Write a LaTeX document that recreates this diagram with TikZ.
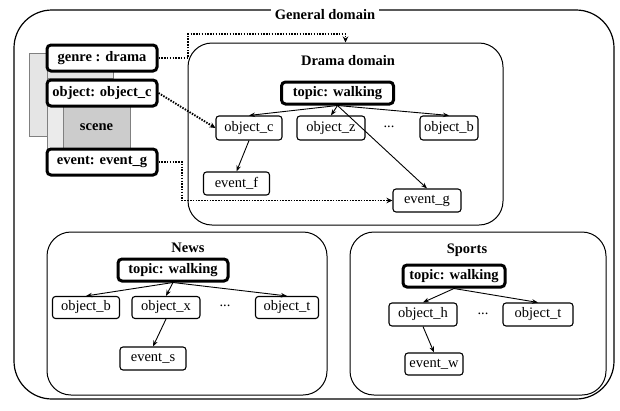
\documentclass[tikz,border=0pt]{standalone}
\usepackage{fontspec}
\setmainfont{Liberation Serif}
\usetikzlibrary{arrows.meta}

\begin{document}
\begin{tikzpicture}[x=1pt,y=-1pt,
  every node/.style={font=\fontsize{14.5}{17}\selectfont},
  domainbox/.style={draw, line width=1pt, rounded corners=24pt, inner sep=0pt},
  conceptbox/.style={draw, line width=1.1pt, rounded corners=3pt, inner sep=0pt, fill=white},
  keybox/.style={draw, line width=3pt, rounded corners=4pt, inner sep=0pt, fill=white,
    font=\fontsize{14.5}{17}\selectfont\bfseries},
  titletext/.style={font=\fontsize{14.5}{17}\selectfont\bfseries, inner sep=1pt},
  topiclink/.style={line width=0.9pt, -{Stealth[length=6pt,width=4.5pt]}},
  crosslink/.style={line width=1.9pt, dash pattern=on 1.5pt off 1.3pt,
    -{Stealth[length=6pt,width=5.5pt]}}]

\useasboundingbox (0,0) rectangle (620,410);

% general domain frame
\node[draw, line width=1.2pt, rounded corners=38pt, minimum width=600pt, minimum height=389pt,
  inner sep=0pt] (general) at (314,204.5) {};
\node[titletext, fill=white, inner xsep=4pt] (gtitle) at (325,15) {General domain};

% scene record on the left
\draw[gray, fill=gray!20, line width=0.6pt] (29,53) rectangle (47,136);
\draw[gray, fill=gray!20, line width=0.6pt] (47,70) rectangle (113,78);
\draw[gray, fill=gray!16, line width=0.6pt] (47,106) rectangle (63,148);
\node[draw=gray, fill=gray!40, line width=0.6pt, minimum width=67pt, minimum height=42pt,
  inner sep=0pt, font=\fontsize{14.5}{17}\selectfont\bfseries] (scene) at (96.5,127) {scene};
\node[keybox, minimum width=110pt, minimum height=26pt] (genre) at (102,58) {genre : drama};
\node[keybox, minimum width=110pt, minimum height=26pt] (objL) at (102,93) {object: object\_c};
\node[keybox, minimum width=110pt, minimum height=26pt] (eventL) at (102,162) {event: event\_g};

% drama domain
\node[domainbox, minimum width=315pt, minimum height=182pt] (drama) at (345.5,134) {};
\node[titletext] (dtitle) at (348,61) {Drama domain};
\node[keybox, minimum width=112pt, minimum height=22pt] (dtopic) at (337.5,93) {topic: walking};
\node[conceptbox, minimum width=66pt, minimum height=24pt] (dobjc) at (249,128) {object\_c};
\node[conceptbox, minimum width=68pt, minimum height=24pt] (dobjz) at (331,128) {object\_z};
\node (ddots) at (389,127) {...};
\node[conceptbox, minimum width=58pt, minimum height=24pt] (dobjb) at (449,128) {object\_b};
\node[conceptbox, minimum width=66pt, minimum height=23pt] (devf) at (236.5,183.5) {event\_f};
\node[conceptbox, minimum width=68pt, minimum height=23pt] (devg) at (427,200.5) {event\_g};

\draw[topiclink] (dtopic.south) -- (dobjc.north);
\draw[topiclink] (dtopic.south) -- (dobjz.north);
\draw[topiclink] (dtopic.south) -- (dobjb.north);
\draw[topiclink] (dtopic.south) -- (devg.north);
\draw[topiclink] (dobjc.south) -- (devf.north);

% links from the scene record into the drama domain
\coordinate (gbend) at (188,34);
\coordinate (ebend) at (182,200.5);
\draw[crosslink] (genre.east) -| (gbend) -| (drama.north);
\draw[crosslink] (objL.east) -- (dobjc.west);
\draw[crosslink] (eventL.east) -| (ebend) -- (devg.west);

% news domain
\node[domainbox, minimum width=280pt, minimum height=163pt] (news) at (187,313.5) {};
\node[titletext] (ntitle) at (188,248) {News};
\node[keybox, minimum width=110pt, minimum height=22pt] (ntopic) at (173,270) {topic: walking};
\node[conceptbox, minimum width=67pt, minimum height=22pt] (nobjb) at (86,307.5) {object\_b};
\node[conceptbox, minimum width=68pt, minimum height=22pt] (nobjx) at (166,307.5) {object\_x};
\node (ndots) at (225,306) {...};
\node[conceptbox, minimum width=63pt, minimum height=22pt] (nobjt) at (287,307.5) {object\_t};
\node[conceptbox, minimum width=66pt, minimum height=23pt] (nevs) at (153,358.5) {event\_s};

\draw[topiclink] (ntopic.south) -- (nobjb.north);
\draw[topiclink] (ntopic.south) -- (nobjx.north);
\draw[topiclink] (ntopic.south) -- (nobjt.north);
\draw[topiclink] (nobjx.south) -- (nevs.north);

% sports domain
\node[domainbox, minimum width=256pt, minimum height=163pt] (sports) at (478,313.5) {};
\node[titletext] (stitle) at (467,250) {Sports};
\node[keybox, minimum width=102pt, minimum height=22pt] (stopic) at (454,276) {topic: walking};
\node[conceptbox, minimum width=68pt, minimum height=23pt] (sobjh) at (423,314.5) {object\_h};
\node (sdots) at (483,314) {...};
\node[conceptbox, minimum width=70pt, minimum height=23pt] (sobjt) at (538,314.5) {object\_t};
\node[conceptbox, minimum width=58pt, minimum height=22pt] (sevw) at (434,364) {event\_w};

\draw[topiclink] (stopic.south) -- (sobjh.north);
\draw[topiclink] (stopic.south) -- (sobjt.north);
\draw[topiclink] (sobjh.south) -- (sevw.north);

\end{tikzpicture}
\end{document}
